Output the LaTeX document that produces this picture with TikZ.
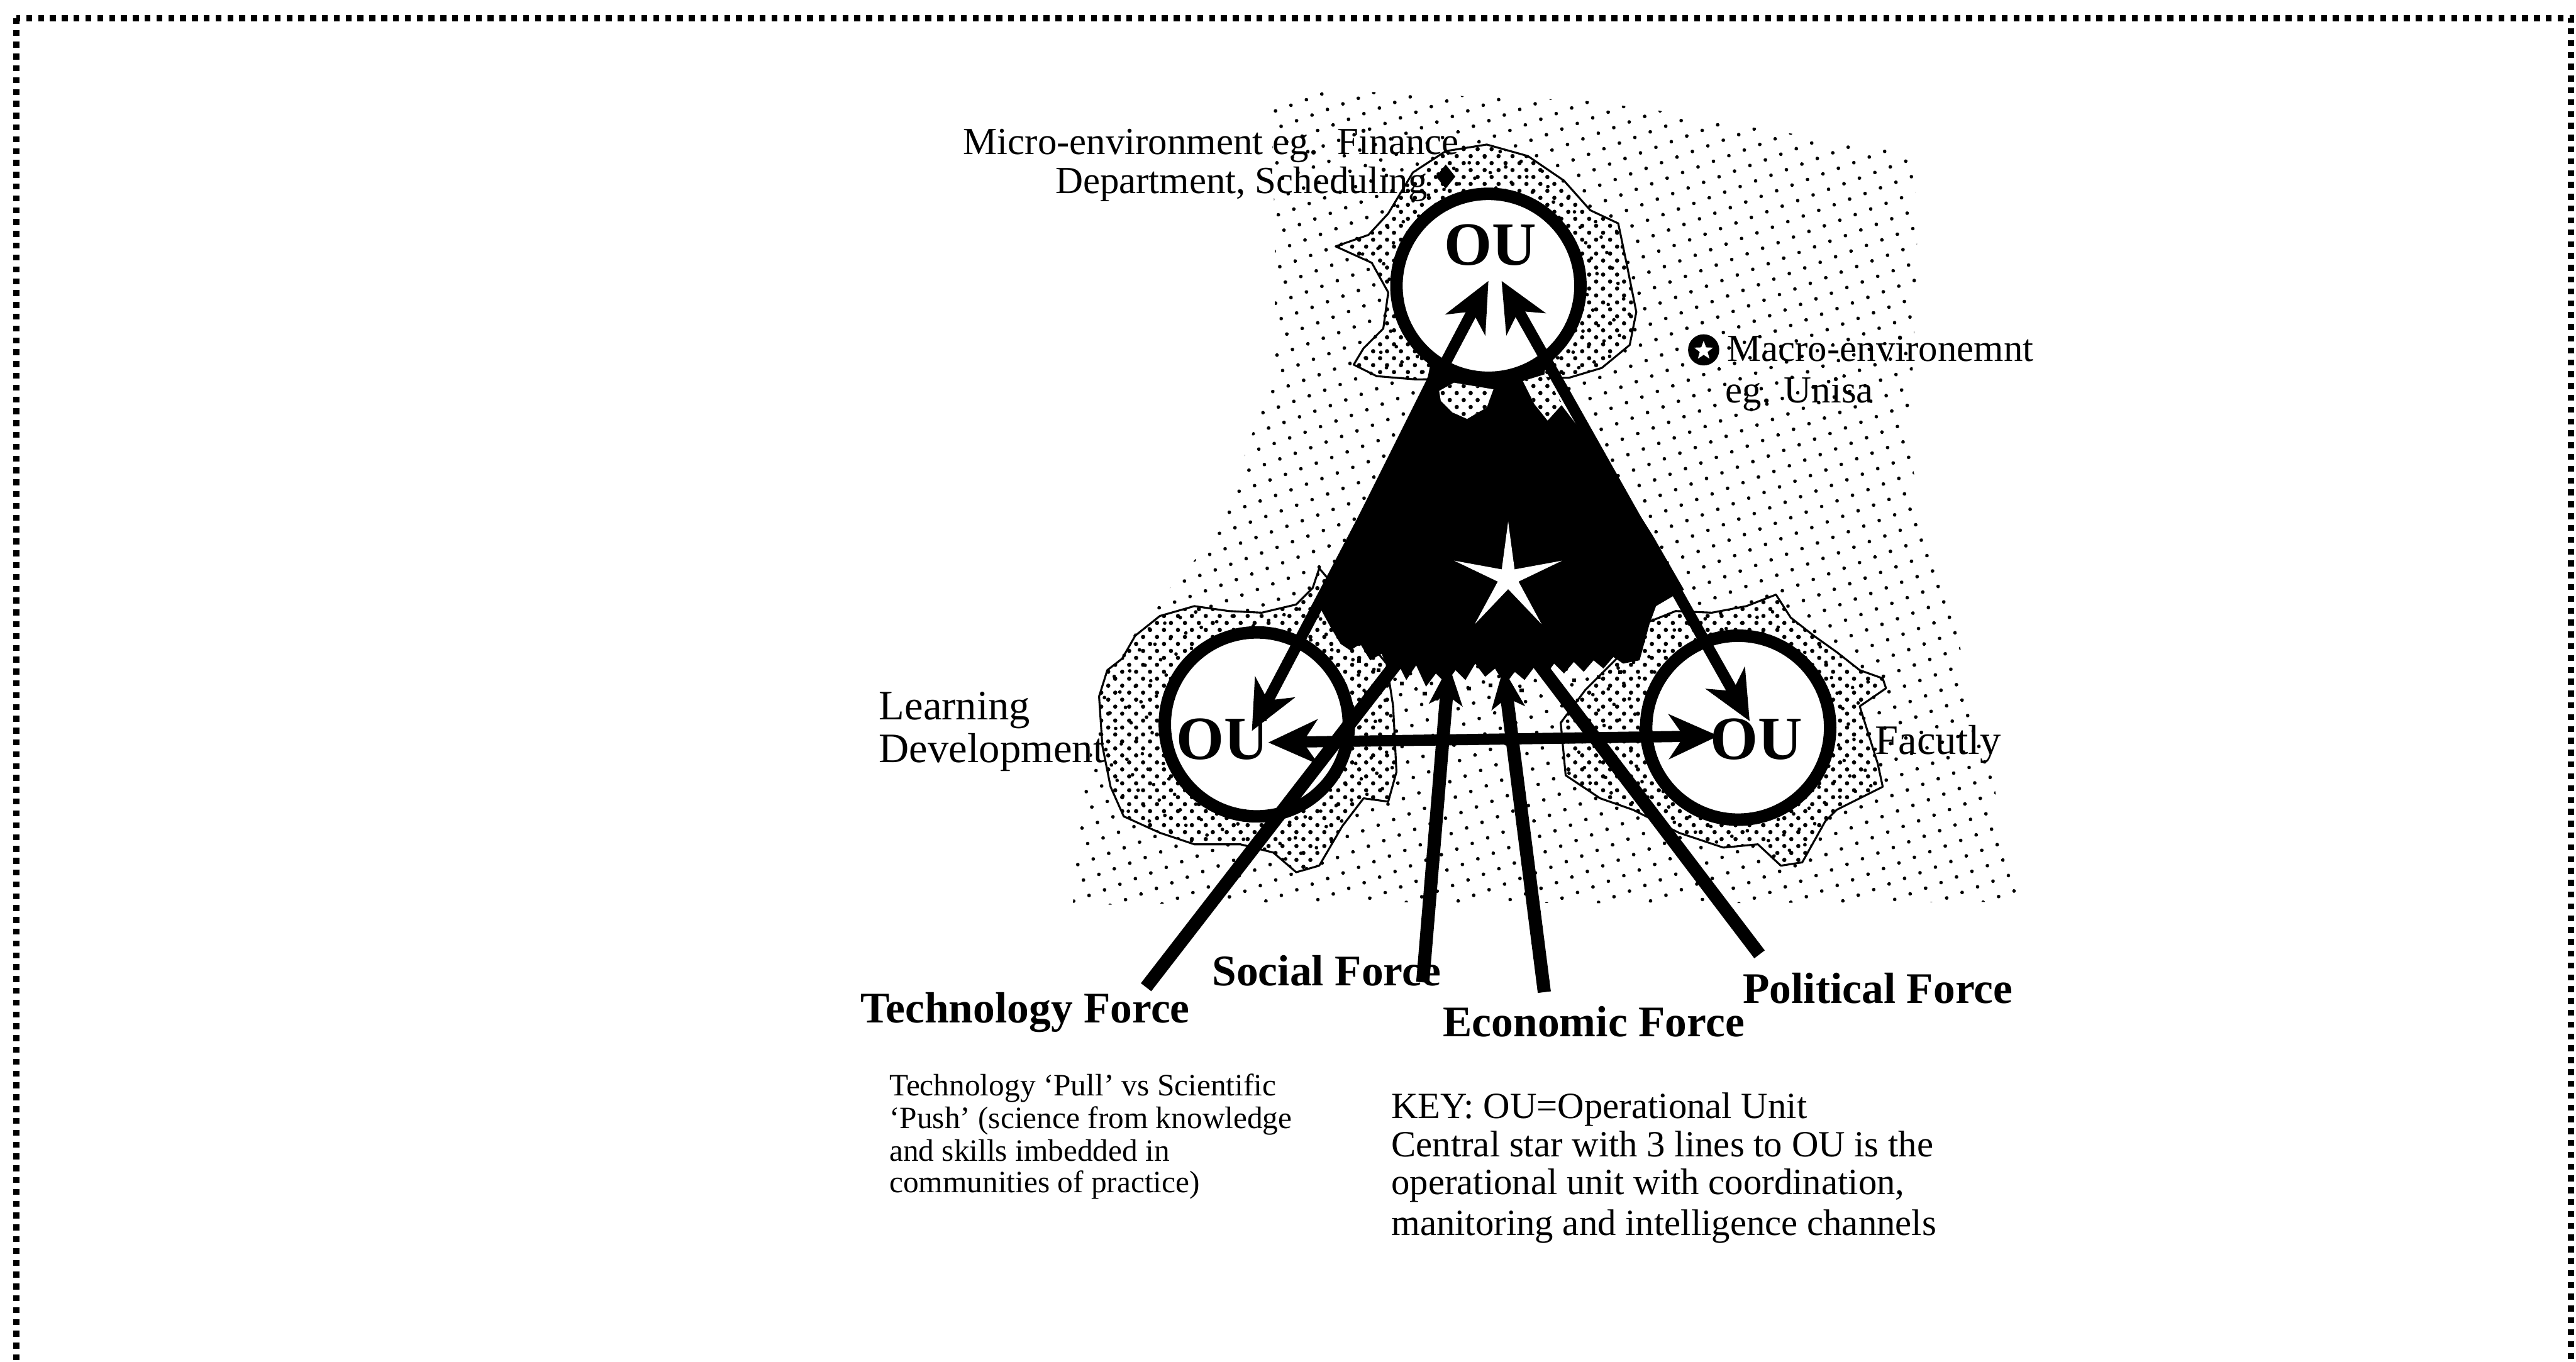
\documentclass[tikz,border=0pt]{standalone}
\usepackage{fontspec}
\setmainfont{Liberation Serif}
\usetikzlibrary{arrows.meta,patterns.meta,shapes.geometric}

\tikzset{
  lightdots/.style={pattern={Dots[radius=0.55pt,distance=5pt,angle=20]},pattern color=black},
  densedots/.style={pattern={Dots[radius=0.65pt,distance=3pt,angle=45]},pattern color=black},
  mapline/.style={line width=0.6pt,line join=round},
  ouring/.style={circle,draw=black,line width=3.8pt,fill=white,minimum size=56pt,inner sep=0pt},
  outext/.style={font=\fontsize{18.7}{20}\selectfont\bfseries,inner sep=0pt},
  linkarrow/.style={line width=3.4pt,
    {Stealth[length=15pt,width=13.5pt,inset=4.5pt]}-{Stealth[length=15pt,width=13.5pt,inset=4.5pt]}},
  forceline/.style={line width=4pt},
  forcearrow/.style={line width=4pt,-{Stealth[length=12pt,width=10pt,inset=3pt]}},
  envlabel/.style={font=\fontsize{11.65}{13}\selectfont,inner sep=0pt,anchor=base west},
  unitlabel/.style={font=\fontsize{12.75}{14}\selectfont,inner sep=0pt,anchor=base west},
  forcelabel/.style={font=\fontsize{13.3}{15}\selectfont\bfseries,inner sep=0pt,anchor=base west},
  notelabel/.style={font=\fontsize{9.45}{11}\selectfont,inner sep=0pt,anchor=base west},
  keylabel/.style={font=\fontsize{11.25}{13}\selectfont,inner sep=0pt,anchor=base west},
}

\begin{document}
\begin{tikzpicture}[x=0.5pt,y=-0.5pt]
\useasboundingbox (0,0) rectangle (1568,829);
\clip (0,0) rectangle (1568,829);

% dotted frame
\draw[line width=2pt,dash pattern=on 1.8pt off 1.8pt] (10,11) rectangle (1565,880);

% stippled map of the organisation
\path[lightdots] (774,67) -- (789,59) -- (805,56) -- (843,56) -- (900,59) -- (962,61)
  -- (1008,67) -- (1057,76) -- (1107,84) -- (1165,94) -- (1167,154) -- (1165,208)
  -- (1162,274) -- (1169,307) -- (1185,361) -- (1198,414) -- (1214,480) -- (1231,549)
  -- (1000,550) -- (800,549) -- (653,551) -- (657,493) -- (673,410) -- (706,365)
  -- (735,332) -- (756,282) -- (776,224) -- (776,142) -- cycle;

% denser zones round the three units
\draw[mapline,densedots] (813,150) -- (833,143) -- (845,130) -- (860,105) -- (880,92)
  -- (905,88) -- (930,95) -- (952,110) -- (968,128) -- (985,136) -- (990,160)
  -- (996,190) -- (992,210) -- (975,224) -- (955,230) -- (862,231) -- (838,229)
  -- (824,222) -- (830,212) -- (842,200) -- (845,178) -- (835,160) -- cycle;
\draw[mapline,densedots] (669,424) -- (674,408) -- (683,401) -- (691,387) -- (706,375)
  -- (727,369) -- (748,372) -- (768,373) -- (789,368) -- (799,358) -- (803,346)
  -- (815,360) -- (830,387) -- (844,404) -- (848,430) -- (850,470) -- (845,488)
  -- (830,486) -- (817,503) -- (803,527) -- (789,531) -- (775,519) -- (755,514)
  -- (727,514) -- (706,507) -- (684,497) -- (676,479) -- (671,454) -- cycle;
\draw[mapline,densedots] (1000,380) -- (1020,372) -- (1042,373) -- (1063,369) -- (1081,362)
  -- (1090,376) -- (1104,387) -- (1118,397) -- (1132,408) -- (1146,413) -- (1148,419)
  -- (1132,430) -- (1143,465) -- (1146,479) -- (1132,486) -- (1118,493) -- (1111,500)
  -- (1097,525) -- (1084,527) -- (1070,514) -- (1049,516) -- (1022,507) -- (994,493)
  -- (974,486) -- (953,472) -- (950,440) -- (965,420) -- (985,400) -- cycle;

% central operational unit
\fill[black] (872,215) -- (869,230) -- (840,288) -- (813,342) -- (804,371) -- (810,382)
  -- (816,392) -- (822,396) -- (828,392) -- (834,402) -- (841,398) -- (846,410)
  -- (851,404) -- (856,414) -- (862,405) -- (868,418) -- (874,410) -- (880,416)
  -- (886,408) -- (892,414) -- (898,404) -- (904,412) -- (910,407) -- (916,417)
  -- (922,409) -- (928,414) -- (934,406) -- (940,412) -- (946,404) -- (952,410)
  -- (958,403) -- (964,409) -- (970,402) -- (976,407) -- (982,400) -- (988,404)
  -- (998,402) -- (1004,380) -- (1008,369) -- (1025,359) -- (1006,326) -- (982,288)
  -- (950,246) -- (940,228) -- (942,215) -- cycle;
\foreach \sx/\sy in {826/401,838/407,852/415,866/421,879/420,893/418,906/416,925/419,
  943/415,957/413,972/411,985/408}
  \fill[black] (\sx,\sy) rectangle ++(2.4,2.4);

% stippled gaps under the top unit
\fill[white] (876,238) -- (885,233) -- (909,237) -- (905,248) -- (893,255) -- (884,251) -- (877,244) -- cycle;
\path[densedots] (876,238) -- (885,233) -- (909,237) -- (905,248) -- (893,255) -- (884,251) -- (877,244) -- cycle;
\fill[white] (927,232) -- (940,228) -- (951,246) -- (942,256) -- (934,246) -- cycle;
\path[densedots] (927,232) -- (940,228) -- (951,246) -- (942,256) -- (934,246) -- cycle;

\node[star,star points=5,star point ratio=5.2,fill=white,minimum size=34.5pt,inner sep=0pt] (core) at (918,352) {};

% operational units
\node[ouring] (cT) at (906,174) {};
\node[ouring] (cL) at (765,441) {};
\node[ouring] (cR) at (1058,443) {};
\node[outext] (ouT) at (907,149) {OU};
\node[outext] (ouL) at (744,450) {OU};
\node[outext] (ouR) at (1069,450) {OU};

% coordination, monitoring and intelligence channels
\coordinate (tL) at (906,171);
\coordinate (tR) at (914,171);
\coordinate (lT) at (762,445);
\coordinate (rT) at (1065,439);
\coordinate (lR) at (772,452);
\coordinate (rL) at (1046,448);
\draw[linkarrow] (lT) -- (tL);
\draw[linkarrow] (rT) -- (tR);
\draw[linkarrow] (lR) -- (rL);

% external forces
\coordinate (techFoot) at (697.6,601);
\coordinate (techHead) at (853,400);
\coordinate (socFoot) at (866,598);
\coordinate (socHead) at (882,405);
\coordinate (ecoFoot) at (940,604);
\coordinate (ecoHead) at (915,407);
\coordinate (polFoot) at (1071,581);
\coordinate (polHead) at (935,402);
\draw[forceline] (techFoot) -- (techHead);
\draw[forcearrow] (socFoot) -- (socHead);
\draw[forcearrow] (ecoFoot) -- (ecoHead);
\draw[forceline] (polFoot) -- (polHead);

% environment markers
\node[diamond,fill=black,minimum width=6pt,minimum height=7.5pt,inner sep=0pt] (micromark) at (880,107.5) {};
\node[circle,fill=black,minimum size=9.5pt,inner sep=0pt] (macromark) at (1037,213) {};
\node[star,star points=5,star point ratio=2.4,fill=white,minimum size=6pt,inner sep=0pt] (macrostar) at (1037,213.5) {};

% labels
\node[envlabel] (micro1) at (586,94) {Micro-environment eg.~~Finance};
\node[envlabel] (micro2) at (642,117.6) {Department, Scheduling};
\node[envlabel] (macro1) at (1051,220) {Macro-environemnt};
\node[envlabel] (macro2) at (1050,245) {eg. Unisa};
\node[unitlabel] (learn1) at (534.7,438) {Learning};
\node[unitlabel] (learn2) at (534.7,464) {Development};
\node[unitlabel] (faculty) at (1141,459) {Facutly};

\node[forcelabel] (techlab) at (523.5,622.8) {Technology Force};
\node[forcelabel] (soclab) at (737.5,600.2) {Social Force};
\node[forcelabel] (ecolab) at (878,631) {Economic Force};
\node[forcelabel] (pollab) at (1060.5,610.6) {Political Force};

\node[notelabel] (note1) at (541,667) {Technology ‘Pull’ vs Scientific};
\node[notelabel] (note2) at (541,687) {‘Push’ (science from knowledge};
\node[notelabel] (note3) at (541,707) {and skills imbedded in};
\node[notelabel] (note4) at (541,726) {communities of practice)};

\node[keylabel] (key1) at (846.5,680.7) {KEY: OU=Operational Unit};
\node[keylabel] (key2) at (846.5,704) {Central star with 3 lines to OU is the};
\node[keylabel] (key3) at (846.5,727) {operational unit with coordination,};
\node[keylabel] (key4) at (846.5,752) {manitoring and intelligence channels};
\end{tikzpicture}
\end{document}
